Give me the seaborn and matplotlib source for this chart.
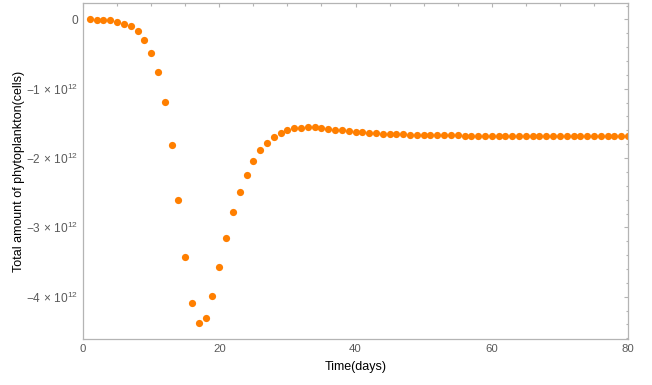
import numpy as np
import pandas as pd
import matplotlib
matplotlib.use("Agg")
import matplotlib.pyplot as plt
from matplotlib.ticker import MultipleLocator, FuncFormatter
import seaborn as sns

# Simulated total phytoplankton amount (cells) for each day
days = list(range(1, 81))
phyto_e12 = [
    0.000, -0.002, -0.004, -0.008, -0.030, -0.062, -0.100, -0.170, -0.290, -0.480,
    -0.760, -1.195, -1.807, -2.600, -3.430, -4.090, -4.380, -4.310, -3.985, -3.567,
    -3.153, -2.780, -2.485, -2.240, -2.040, -1.888, -1.782, -1.700, -1.638, -1.600,
    -1.571, -1.561, -1.556, -1.556, -1.571, -1.580, -1.590, -1.600, -1.609, -1.619,
    -1.628, -1.638, -1.642, -1.647, -1.657, -1.657, -1.658, -1.660, -1.663, -1.666,
    -1.668, -1.670, -1.672, -1.673, -1.674, -1.675, -1.675, -1.675, -1.676, -1.676,
    -1.676, -1.676, -1.677, -1.677, -1.677, -1.677, -1.677, -1.677, -1.677, -1.677,
    -1.677, -1.677, -1.677, -1.677, -1.677, -1.677, -1.677, -1.677, -1.677, -1.677,
]
x_ticks = [0, 20, 40, 60, 80]

df = pd.DataFrame({"day": days, "cells": np.array(phyto_e12) * 1e12})

sns.set_theme(style="white")
plt.rcParams["font.family"] = ["Liberation Sans", "DejaVu Sans"]
plt.rcParams["mathtext.fontset"] = "custom"
plt.rcParams["mathtext.rm"] = "Liberation Sans"
plt.rcParams["mathtext.it"] = "Liberation Sans"

frame_col = "#b4b4b4"
label_col = "#5a5a5a"

fig = plt.figure(figsize=(6.52, 3.85), dpi=100)
ax = fig.add_axes([83 / 652, 46 / 385, 545 / 652, 336 / 385])

sns.scatterplot(data=df, x="day", y="cells", ax=ax, color="#ff7f00",
                s=27, linewidth=0, legend=False)

ax.set_xlim(0, 80)
ax.set_ylim(-4.61e12, 0.237e12)

ax.set_xticks(x_ticks)
ax.xaxis.set_minor_locator(MultipleLocator(5))
ax.yaxis.set_major_locator(MultipleLocator(1e12))
ax.yaxis.set_minor_locator(MultipleLocator(0.2e12))


def sci_label(v, pos):
    n = int(round(v / 1e12))
    if n == 0:
        return "0"
    sign = "\u2212" if n < 0 else ""
    return sign + str(abs(n)) + r"$\,\times\,10^{12}$"


ax.yaxis.set_major_formatter(FuncFormatter(sci_label))
ax.xaxis.set_major_formatter(FuncFormatter(lambda v, p: f"{int(v)}"))

for side in ax.spines.values():
    side.set_color(frame_col)
    side.set_linewidth(0.9)

ax.tick_params(which="both", direction="in", top=True, right=True,
               color=frame_col, width=0.8, labelcolor=label_col)
ax.tick_params(axis="x", labelsize=8.2)
ax.tick_params(axis="y", labelsize=8.6)
ax.tick_params(which="major", length=3.2, pad=3.5)
ax.tick_params(which="minor", length=1.8)

ax.set_xlabel("Time(days)", fontsize=9, color="black", labelpad=5)
ax.set_ylabel("Total amount of phytoplankton(cells)", fontsize=9, color="black")
ax.yaxis.set_label_coords(-0.107, 0.5)

fig.savefig("out.png", dpi=100, facecolor="white")
